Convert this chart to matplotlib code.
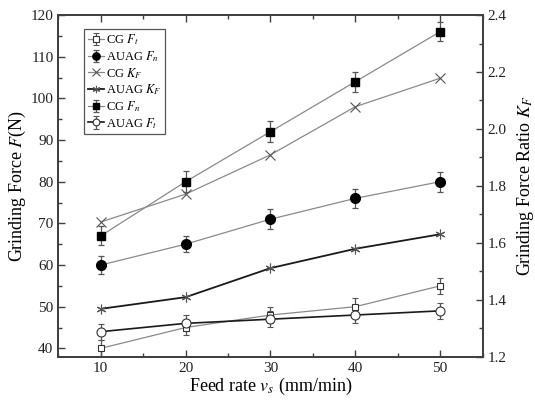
import matplotlib
matplotlib.use("Agg")
import matplotlib.pyplot as plt
from matplotlib.ticker import MultipleLocator

plt.rcParams["font.family"] = ["Liberation Serif", "DejaVu Serif"]
plt.rcParams["mathtext.fontset"] = "stix"

feed = [10, 20, 30, 40, 50]

cg_fn = [67, 80, 92, 104, 116]
cg_fn_err = [2.3, 2.5, 2.5, 2.4, 2.3]
auag_fn = [60, 65, 71, 76, 80]
auag_fn_err = [2.1, 1.9, 2.4, 2.2, 2.4]
cg_ft = [40, 45, 48, 50, 55]
cg_ft_err = [1.9, 1.9, 1.9, 2.0, 1.9]
auag_ft = [44, 46, 47, 48, 49]
auag_ft_err = [1.9, 1.9, 1.9, 1.9, 1.9]

cg_kf = [1.673, 1.771, 1.909, 2.078, 2.178]
auag_kf = [1.368, 1.409, 1.511, 1.579, 1.630]

gray = "#8a8a8a"
dark = "#1a1a1a"
spine_c = "#404040"

fig = plt.figure(figsize=(5.35, 4.01), dpi=100)
ax = fig.add_axes([0.109, 0.1105, 0.793, 0.852])
ax2 = ax.twinx()

eb = dict(capsize=2.5, elinewidth=0.9, ecolor="#555555", capthick=0.9)

h1 = ax.errorbar(feed, cg_ft, yerr=cg_ft_err, color=gray, lw=0.9, marker="s", ms=5,
                 mfc="white", mec="#333333", mew=0.8, **eb)
h2 = ax.errorbar(feed, auag_fn, yerr=auag_fn_err, color=gray, lw=0.9, marker="o", ms=7,
                 mfc="black", mec="black", **eb)
h5 = ax.errorbar(feed, cg_fn, yerr=cg_fn_err, color=gray, lw=0.9, marker="s", ms=5.5,
                 mfc="black", mec="black", **eb)
h6 = ax.errorbar(feed, auag_ft, yerr=auag_ft_err, color=dark, lw=1.2, marker="o", ms=6.5,
                 mfc="white", mec="#333333", mew=0.8, **eb)
h3, = ax2.plot(feed, cg_kf, color=gray, lw=0.9, marker="x", ms=7, mec="#555555", mew=0.8)
h4, = ax2.plot(feed, auag_kf, color=dark, lw=1.3, marker=(6, 2, 0), ms=7, mec="#555555", mew=0.8)

ax.set_xlim(5, 55)
ax.set_ylim(38, 120)
ax2.set_ylim(1.2, 2.4)

ax.xaxis.set_minor_locator(MultipleLocator(5))
ax.yaxis.set_minor_locator(MultipleLocator(5))
ax2.yaxis.set_major_locator(MultipleLocator(0.2))
ax2.yaxis.set_minor_locator(MultipleLocator(0.1))
ax.set_xticks([10, 20, 30, 40, 50])
ax.set_yticks([40, 50, 60, 70, 80, 90, 100, 110, 120])

ax.tick_params(axis="x", which="both", direction="in", top=True, labelsize=11, colors=spine_c,
               labelcolor="#222222")
ax.tick_params(axis="y", which="both", direction="in", right=False, labelsize=11, colors=spine_c,
               labelcolor="#222222")
ax2.tick_params(axis="y", which="both", direction="in", labelsize=11, colors=spine_c,
                labelcolor="#222222")
for a in (ax, ax2):
    a.tick_params(which="major", length=5, width=1)
    a.tick_params(which="minor", length=3, width=1)
    for s in a.spines.values():
        s.set_color(spine_c)
        s.set_linewidth(1.3)

ax2.yaxis.set_major_formatter(matplotlib.ticker.FormatStrFormatter("%.1f"))

ax.set_xlabel("Feed rate $v_s$ (mm/min)", fontsize=13, labelpad=1)
ax.set_ylabel("Grinding Force $F$(N)", fontsize=13, labelpad=2)
ax2.set_ylabel("Grinding Force Ratio $K_F$", fontsize=13, labelpad=6)

leg = ax.legend([h1, h2, h3, h4, h5, h6],
                ["CG $F_t$", "AUAG $F_n$", "CG $K_F$", "AUAG $K_F$", "CG $F_n$", "AUAG $F_t$"],
                loc="upper left", bbox_to_anchor=(0.06, 0.96), fontsize=9,
                fancybox=False, edgecolor="#555555", framealpha=1, handlelength=1.3,
                handletextpad=0.2, borderpad=0.3, labelspacing=0.15, borderaxespad=0.0,
                markerscale=0.75)
leg.get_frame().set_linewidth(0.9)

fig.savefig("out.png", dpi=100)
